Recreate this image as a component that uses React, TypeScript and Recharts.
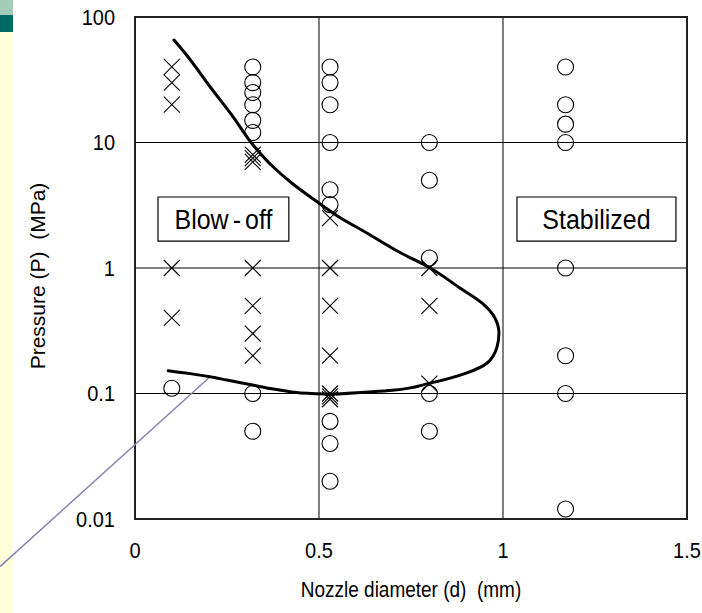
import React from 'react';
import {
  ComposedChart,
  XAxis,
  YAxis,
  CartesianGrid,
  Scatter,
  ReferenceArea,
  ReferenceLine,
} from 'recharts';

// Nozzle diameter columns (mm)
const columnD = [0.1, 0.32, 0.53, 0.8, 1.17];
// Blow-off observations (x marks), pressure MPa per column
const blowOffP = [
  [40, 30, 20, 1, 0.4],
  [8, 7.5, 7, 1, 0.5, 0.3, 0.2],
  [2.5, 1, 0.5, 0.2, 0.1, 0.095, 0.09],
  [1, 0.5, 0.12],
  [],
];
// Stabilized observations (circles), pressure MPa per column
const stabilizedP = [
  [0.11],
  [40, 30, 25, 20, 15, 12, 0.1, 0.05],
  [40, 30, 20, 10, 4.2, 3.2, 0.06, 0.04, 0.02],
  [10, 5, 1.2, 0.1, 0.05],
  [40, 20, 14, 10, 1, 0.2, 0.1, 0.012],
];
// Stability boundary curve: upper branch down to the nose and the minimum
const upperD = [0.106, 0.14, 0.204, 0.266, 0.321, 0.375, 0.43, 0.49, 0.55, 0.63, 0.72, 0.802, 0.883, 0.945, 0.978, 0.989, 0.984, 0.957, 0.902, 0.802, 0.7, 0.55];
const upperP = [65.6, 49.8, 27.8, 16.1, 9.55, 6.41, 4.65, 3.45, 2.6, 1.9, 1.33, 1.0, 0.693, 0.52, 0.4, 0.303, 0.236, 0.175, 0.146, 0.121, 0.106, 0.099];
// Lower branch from the minimum back to small diameters
const lowerD = [0.55, 0.45, 0.38, 0.3125, 0.25, 0.204, 0.15, 0.09];
const lowerP = [0.099, 0.101, 0.108, 0.118, 0.128, 0.136, 0.144, 0.152];

const xTicks = [0, 0.5, 1, 1.5];
const yTicks = [0.01, 0.1, 1, 10, 100];

const blowOff = columnD.flatMap((d, i) => blowOffP[i].map((p) => ({ d, p })));
const stabilized = columnD.flatMap((d, i) => stabilizedP[i].map((p) => ({ d, p })));
const upperCurve = upperD.map((d, i) => ({ d, p: upperP[i] }));
const lowerCurve = lowerD.map((d, i) => ({ d, p: lowerP[i] }));

const FONT = 'Liberation Sans, Arial, Helvetica, sans-serif';
const STRETCH = 1.12;

const CircleMark = (props: any) => (
  <circle cx={props.cx} cy={props.cy} r={8} fill="none" stroke="#000" strokeWidth={1.1} />
);
const CrossMark = (props: any) => {
  const { cx, cy } = props;
  const s = 8;
  return (
    <g stroke="#000" strokeWidth={1.1}>
      <line x1={cx - s} y1={cy - s} x2={cx + s} y2={cy + s} />
      <line x1={cx - s} y1={cy + s} x2={cx + s} y2={cy - s} />
    </g>
  );
};
const NoMark = () => <g />;

const YTick = (props: any) => {
  const { x, y, payload } = props;
  return (
    <text
      transform={`translate(${x},${y}) scale(1,${STRETCH})`}
      textAnchor="end"
      dy="0.355em"
      fontSize={20}
      fontFamily={FONT}
      fill="#000"
    >
      {String(payload.value)}
    </text>
  );
};

const XTick = (props: any) => {
  const { x, y, payload } = props;
  return (
    <text
      transform={`translate(${x},${y}) scale(1,${STRETCH})`}
      textAnchor="middle"
      dy="0.71em"
      fontSize={20}
      fontFamily={FONT}
      fill="#000"
    >
      {String(payload.value)}
    </text>
  );
};

const BoxLabel = (props: any) => {
  const { viewBox, text, parts } = props;
  if (!viewBox) return null;
  const cx = viewBox.x + viewBox.width / 2;
  const cy = viewBox.y + viewBox.height / 2 + 10;
  return (
    <text
      transform={`translate(${cx},${cy}) scale(1,${STRETCH})`}
      textAnchor="middle"
      fontSize={25}
      fontFamily={FONT}
      fill="#000"
    >
      {parts ? (
        <>
          <tspan>{parts[0]}</tspan>
          <tspan dx={4}>{parts[1]}</tspan>
          <tspan dx={4}>{parts[2]}</tspan>
        </>
      ) : (
        text
      )}
    </text>
  );
};

const XTitle = (props: any) => {
  const { viewBox } = props;
  if (!viewBox) return null;
  const cx = viewBox.x + viewBox.width / 2;
  return (
    <text
      transform={`translate(${cx},597) scale(1,${STRETCH})`}
      textAnchor="middle"
      fontSize={19}
      fontFamily={FONT}
      fill="#000"
      style={{ whiteSpace: 'pre' }}
    >
      {'Nozzle diameter (d)  (mm)'}
    </text>
  );
};

const YTitle = () => {
  const x = 37;
  const y = 276;
  return (
    <text
      x={x}
      y={y}
      transform={`rotate(-90, ${x}, ${y})`}
      textAnchor="middle"
      dominantBaseline="central"
      fontSize={21}
      fontFamily={FONT}
      fill="#000"
      style={{ whiteSpace: 'pre' }}
    >
      {'Pressure (P)  (MPa)'}
    </text>
  );
};

export default function App() {
  return (
    <div style={{ position: 'absolute', left: 0, top: 0, width: 702, height: 613, background: '#fff' }}>
      <div style={{ position: 'absolute', left: 0, top: 0, width: 13, height: 613, background: '#FFFFDA' }} />
      <div style={{ position: 'absolute', left: 0, top: 0, width: 13, height: 15, background: '#A4CDB9' }} />
      <div style={{ position: 'absolute', left: 0, top: 15, width: 13, height: 17, background: '#006B66' }} />
      <div style={{ position: 'absolute', left: 0, top: 0 }}>
        <ComposedChart
          width={702}
          height={613}
          margin={{ top: 17, right: 15, bottom: 34, left: 0 }}
          style={{ fontFamily: FONT }}
        >
          <CartesianGrid stroke="#000" strokeWidth={1} />
          <XAxis
            type="number"
            dataKey="d"
            domain={[0, 1.5]}
            ticks={xTicks}
            height={60}
            tickLine={false}
            axisLine={false}
            tickSize={0}
            tickMargin={23}
            tick={<XTick />}
            allowDataOverflow
            label={<XTitle />}
          />
          <YAxis
            type="number"
            dataKey="p"
            scale="log"
            domain={[0.01, 100]}
            ticks={yTicks}
            width={135}
            tickLine={false}
            axisLine={false}
            tickSize={0}
            tickMargin={20}
            tick={<YTick />}
            allowDataOverflow
            label={<YTitle />}
          />
          <ReferenceArea
            x1={0.0625}
            x2={0.418}
            y1={1.64}
            y2={3.68}
            fill="#fff"
            fillOpacity={1}
            stroke="#000"
            strokeWidth={1.2}
            label={<BoxLabel parts={['Blow', '-', 'off']} />}
          />
          <ReferenceArea
            x1={1.038}
            x2={1.47}
            y1={1.64}
            y2={3.68}
            fill="#fff"
            fillOpacity={1}
            stroke="#000"
            strokeWidth={1.2}
            label={<BoxLabel text="Stabilized" />}
          />
          <Scatter data={stabilized} shape={<CircleMark />} isAnimationActive={false} />
          <Scatter data={blowOff} shape={<CrossMark />} isAnimationActive={false} />
          <Scatter
            data={upperCurve}
            shape={<NoMark />}
            line={{ stroke: '#000', strokeWidth: 3, strokeLinecap: 'round' }}
            lineJointType="monotoneY"
            isAnimationActive={false}
          />
          <Scatter
            data={lowerCurve}
            shape={<NoMark />}
            line={{ stroke: '#000', strokeWidth: 3, strokeLinecap: 'round' }}
            lineJointType="monotoneX"
            isAnimationActive={false}
          />
          <ReferenceArea
            x1={0}
            x2={1.5}
            y1={0.01}
            y2={100}
            fill="none"
            stroke="#222"
            strokeWidth={2}
          />
          <ReferenceLine
            segment={[
              { x: -0.367, y: 0.00417 },
              { x: 0.204, y: 0.136 },
            ]}
            stroke="#8585B5"
            strokeWidth={1.5}
            ifOverflow="visible"
          />
        </ComposedChart>
      </div>
    </div>
  );
}
